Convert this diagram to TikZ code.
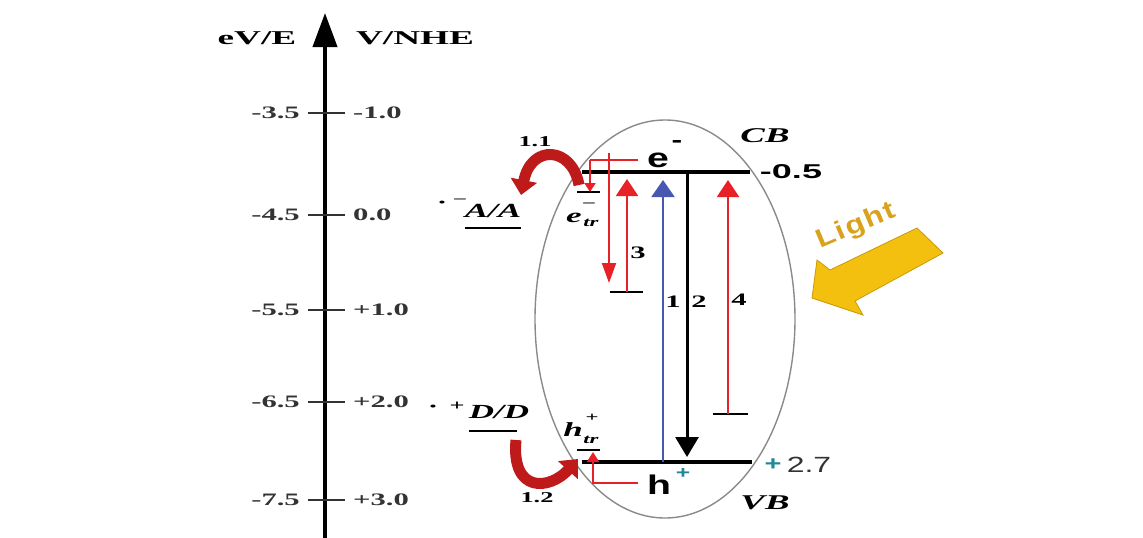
\documentclass[tikz,border=0pt]{standalone}
\usepackage{fontspec}
\setmainfont{Liberation Serif}
\newfontfamily\tserif[FakeStretch=1.75]{Liberation Serif}
\newfontfamily\ttitle[FakeStretch=1.9]{Liberation Serif}
\newfontfamily\tsans[FakeStretch=1.45]{Liberation Sans}
\newfontfamily\tsanswide[FakeStretch=1.8]{Liberation Sans}
\newfontfamily\tlight[FakeStretch=1.2,LetterSpace=6]{Liberation Sans}
\usetikzlibrary{arrows.meta,calc,shapes.geometric}
\definecolor{lred}{HTML}{E82028}
\definecolor{dred}{HTML}{BE1A1A}
\definecolor{lblue}{HTML}{4858B0}
\definecolor{gold}{HTML}{F4C010}
\definecolor{golddark}{HTML}{C89A08}
\definecolor{goldtxt}{HTML}{D8A21C}
\definecolor{tealc}{HTML}{208898}
\definecolor{ellgray}{HTML}{8A8A8A}
\definecolor{labgray}{HTML}{333333}
\begin{document}
\begin{tikzpicture}[x=1pt,y=-1pt,
  every node/.style={inner sep=0pt},
  title/.style={font=\ttitle\bfseries\fontsize{19.6}{20}\selectfont},
  lab/.style={font=\tserif\bfseries\fontsize{17.5}{18}\selectfont, text=labgray},
  num/.style={font=\tserif\bfseries\fontsize{17.5}{18}\selectfont},
  band/.style={font=\tserif\bfseries\itshape\fontsize{21}{22}\selectfont},
  redox/.style={font=\tserif\bfseries\itshape\fontsize{20}{21}\selectfont},
  small/.style={font=\tserif\bfseries\fontsize{15}{16}\selectfont},
  carrier/.style={font=\tsans\bfseries\fontsize{27}{28}\selectfont},
  tickline/.style={draw=labgray, line width=1.3pt},
  level/.style={draw=black, line width=4pt},
  trap/.style={draw=black, line width=2.8pt},
  redarr/.style={draw=lred, line width=2pt},
  curvarr/.style={draw=dred, line width=11pt, -{Triangle[length=15pt,width=26pt]}},
]
\useasboundingbox (0,0) rectangle (1143,538);

% energy axis
\coordinate (axB) at (325,538);
\coordinate (axT) at (325,13);
\draw[line width=4pt, -{Triangle[length=34pt,width=24pt]}] (axB) -- (axT);
\node[title] (tE) at (257,38) {eV/E};
\node[title] (tN) at (415,38) {V/NHE};

\foreach \n/\y/\l/\r in {a/113/-3.5/-1.0, b/215/-4.5/0.0, c/310/-5.5/+1.0, d/402/-6.5/+2.0, e/500/-7.5/+3.0}{
  \coordinate (tl\n) at (308,\y);
  \coordinate (tr\n) at (345,\y);
  \draw[tickline] (tl\n) -- (tr\n);
  \node[lab, anchor=east] (L\n) at (300,\y) {\l};
  \node[lab, anchor=west] (R\n) at (353,\y) {\r};
}

% particle ellipse
\node[ellipse, draw=ellgray, line width=1.4pt, minimum width=260pt, minimum height=398pt] (ell) at (665,319) {};

% band edges
\coordinate (cbL) at (582,172); \coordinate (cbR) at (750,172);
\coordinate (vbL) at (582,462); \coordinate (vbR) at (752,462);
\draw[level] (cbL) -- (cbR);
\draw[level] (vbL) -- (vbR);

% trap levels
\coordinate (etL) at (577,192); \coordinate (etR) at (600,192);
\coordinate (htL) at (577,450); \coordinate (htR) at (600,450);
\coordinate (t3L) at (610,292); \coordinate (t3R) at (643,292);
\coordinate (t4L) at (713,414); \coordinate (t4R) at (748,414);
\draw[trap] (etL) -- (etR);
\draw[trap] (htL) -- (htR);
\draw[trap] (t3L) -- (t3R);
\draw[trap] (t4L) -- (t4R);

% transitions
\coordinate (b1s) at (663,462); \coordinate (b1e) at (663,180);
\draw[draw=lblue, line width=2pt, -{Triangle[length=17pt,width=23pt]}] (b1s) -- (b1e);
\coordinate (k2s) at (687,172); \coordinate (k2e) at (687,457);
\draw[line width=3pt, -{Triangle[length=20pt,width=23pt]}] (k2s) -- (k2e);
\coordinate (r3s) at (627,292); \coordinate (r3e) at (627,179);
\draw[redarr, -{Triangle[length=17pt,width=22pt]}] (r3s) -- (r3e);
\coordinate (r4s) at (728,414); \coordinate (r4e) at (728,180);
\draw[redarr, -{Triangle[length=17pt,width=22pt]}] (r4s) -- (r4e);

% electron trapping lines
\coordinate (eH) at (638,160); \coordinate (eJ) at (590,160);
\coordinate (eTop) at (609,153); \coordinate (eLong) at (609,283);
\draw[redarr] (eH) -- (eJ);
\draw[redarr, -{Triangle[length=9pt,width=11pt]}] (eJ) -- (etR -| eJ);
\draw[redarr, -{Triangle[length=20pt,width=14pt]}] (eTop) -- (eLong);

% hole trapping line
\coordinate (hH) at (638,483); \coordinate (hJ) at (593,483);
\draw[redarr, -{Triangle[length=10pt,width=12pt]}] (hH) -- (hJ) -- ($(hJ)+(0,-31)$);

% interfacial transfer (curved arrows)
\coordinate (c1s) at (579,185); \coordinate (c1e) at (521,195);
\draw[curvarr] (c1s) .. controls (572,146) and (531,144) .. (c1e);
\coordinate (c2s) at (516,440); \coordinate (c2e) at (578,459);
\draw[curvarr] (c2s) .. controls (511,494) and (550,490) .. (c2e);
\node[small] (n11) at (535,142) {1.1};
\node[small] (n12) at (537,498) {1.2};

% carriers
\node[carrier] (eminus) at (658,160) {e};
\node[font=\tsans\bfseries\fontsize{22}{22}\selectfont] (emsup) at (677,144) {-};
\node[carrier] (hplus) at (659,485) {h};
\node[font=\tsans\bfseries\fontsize{17}{17}\selectfont, text=tealc] (hpsup) at (683,474) {+};

% trapped carrier labels
\node[redox] (etr) at (574,218) {e};
\node[font=\tserif\bfseries\itshape\fontsize{13}{13}\selectfont] (etrsub) at (591,223) {tr};
\node[font=\tserif\bfseries\fontsize{13}{13}\selectfont] (etrsup) at (589,205) {–};
\node[redox] (htr) at (573,430) {h};
\node[font=\tserif\bfseries\itshape\fontsize{13}{13}\selectfont] (htrsub) at (591,440) {tr};
\node[font=\tserif\bfseries\fontsize{13}{13}\selectfont] (htrsup) at (592,418) {+};

% redox couples
\node[font=\tserif\bfseries\fontsize{18}{18}\selectfont] (adot) at (442,205) {·};
\node[font=\tserif\bfseries\fontsize{13}{13}\selectfont] (amin) at (460,201) {–};
\node[redox] (AA) at (493,211) {A/A};
\draw[line width=1.6pt] ($(AA.south west)+(0,10)$) -- ($(AA.south east)+(0,10)$);
\node[font=\tserif\bfseries\fontsize{18}{18}\selectfont] (ddot) at (433,409) {·};
\node[font=\tserif\bfseries\fontsize{15}{15}\selectfont] (dplus) at (457,406) {+};
\node[redox] (DD) at (499,412) {D/D};
\draw[line width=1.6pt] ($(DD.south west)+(0,12)$) -- ($(DD.south east)+(-12,12)$);

% band labels
\node[band] (CB) at (765,136) {CB};
\node[band] (VB) at (765,503) {VB};
\node[font=\tsanswide\bfseries\fontsize{20}{20}\selectfont] (cbval) at (791,172) {-0.5};
\node[font=\tsans\bfseries\fontsize{20}{20}\selectfont, text=tealc] (vbplus) at (773,465) {+};
\node[font=\tsans\fontsize{22}{22}\selectfont, text=labgray] (vbval) at (809,465) {2.7};

% transition numbers
\node[num] (n1) at (673,302) {1};
\node[num] (n2) at (699,302) {2};
\node[num] (n3) at (638,253) {3};
\node[num] (n4) at (739,300) {4};

% light
\fill[gold, draw=golddark, line width=0.8pt] (917,228) -- (943,253) -- (855,301) -- (863,315) -- (812,298) -- (817,260) -- (830,270) -- cycle;
\node[rotate=23, font=\tlight\bfseries\fontsize{26}{26}\selectfont, text=goldtxt] (light) at (856,226) {Light};
\end{tikzpicture}
\end{document}
